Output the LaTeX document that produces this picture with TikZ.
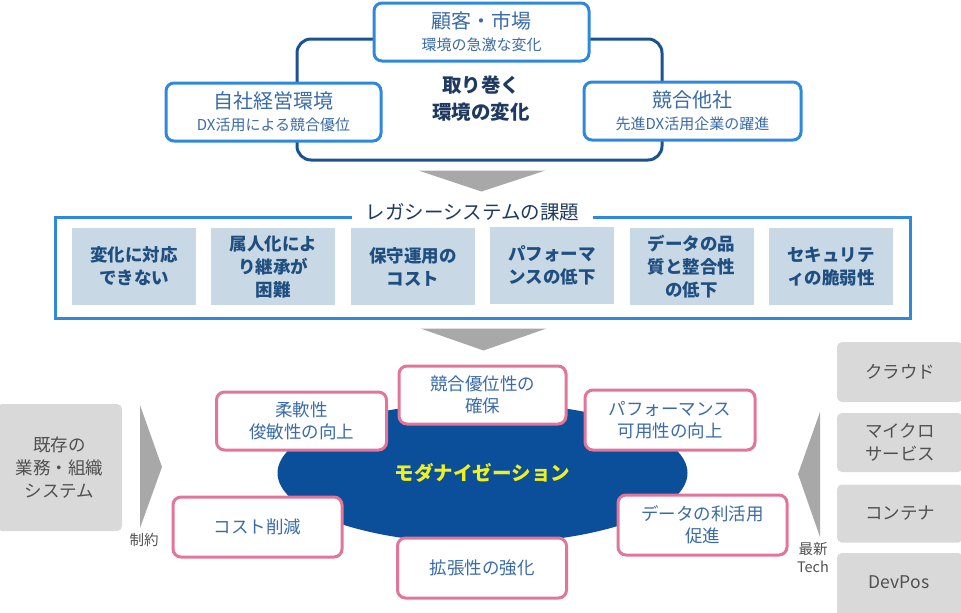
\documentclass[tikz,border=0pt]{standalone}
\usepackage{fontspec}
\setmainfont{Noto Sans CJK JP}
\usetikzlibrary{shapes.geometric}
\definecolor{lblue}{HTML}{2E88DC}
\definecolor{dblue}{HTML}{1C5291}
\definecolor{txtblue}{HTML}{3A6BA8}
\definecolor{navy}{HTML}{1F3A60}
\definecolor{issuefill}{HTML}{C9D8E5}
\definecolor{issuetxt}{HTML}{1F4F80}
\definecolor{pinkline}{HTML}{E27598}
\definecolor{ellblue}{HTML}{0B4F9A}
\definecolor{grayfill}{HTML}{D9D9D9}
\definecolor{arrowgray}{HTML}{A8A8A8}
\definecolor{graytxt}{HTML}{505050}
\tikzset{
  envbox/.style={draw=lblue, line width=3pt, rounded corners=8pt, fill=white,
    inner sep=0pt, align=center, text=txtblue, font=\fontsize{15}{22}\selectfont},
  issuebox/.style={fill=issuefill, inner sep=0pt, minimum width=124pt, minimum height=77pt,
    align=center, text=issuetxt, font=\fontsize{17.5}{23}\selectfont\bfseries},
  goalbox/.style={draw=pinkline, line width=3pt, rounded corners=8pt, fill=white,
    inner sep=0pt, align=center, text=txtblue, font=\fontsize{17.5}{22.5}\selectfont},
  techbox/.style={fill=grayfill, rounded corners=5pt, inner sep=0pt, align=center,
    text=graytxt, font=\fontsize{17.5}{23}\selectfont},
  smalltxt/.style={text=graytxt, align=center, inner sep=0pt, font=\fontsize{14.5}{18}\selectfont},
  bigarrow/.style={fill=arrowgray, draw=none}
}
\begin{document}
\begin{tikzpicture}[x=1pt, y=-1pt]
\useasboundingbox (0,0) rectangle (961,613);
\clip (0,0) rectangle (961,613);

% ---------- top: environment ----------
\node[draw=dblue, line width=3pt, rounded corners=14pt, minimum width=365pt, minimum height=121pt, inner sep=0pt] (env) at (479.5,99.5) {};
\node[envbox, minimum width=215pt, minimum height=58pt] (cust) at (481.5,32)
  {{\fontsize{20}{24}\selectfont 顧客・市場}\\環境の急激な変化};
\node[envbox, minimum width=215pt, minimum height=58pt] (own) at (273.5,112)
  {{\fontsize{20}{24}\selectfont 自社経営環境}\\DX活用による競合優位};
\node[envbox, minimum width=217pt, minimum height=58pt] (comp) at (692.5,111)
  {{\fontsize{20}{24}\selectfont 競合他社}\\先進DX活用企業の躍進};
\node[text=navy, align=center, font=\fontsize{19.5}{27}\selectfont\bfseries] (envtitle) at (481,98.5) {取り巻く\\環境の変化};

% ---------- legacy issues ----------
\node[draw=lblue, line width=3pt, minimum width=855pt, minimum height=101pt, inner sep=0pt] (legacy) at (482.5,267.5) {};
\node[fill=white, text=navy, inner sep=0pt, minimum width=241pt, minimum height=12pt, font=\fontsize{19.5}{24}\selectfont] (legtitle) at (472.5,212.5) {レガシーシステムの課題};

\node[issuebox] (i1) at (134,266.5) {変化に対応\\できない};
\node[issuebox] (i2) at (273.4,266.5) {属人化によ\\り継承が\\困難};
\node[issuebox] (i3) at (412.8,266.5) {保守運用の\\コスト};
\node[issuebox] (i4) at (552.2,265.5) {パフォーマ\\ンスの低下};
\node[issuebox] (i5) at (691.6,266.5) {データの品\\質と整合性\\の低下};
\node[issuebox] (i6) at (831,266.5) {セキュリテ\\ィの脆弱性};

% ---------- down arrows ----------
\fill[bigarrow] (env.south) ++(-61,9) -- ++(127,0) -- ++(-64,21) -- cycle;
\fill[bigarrow] (legacy.south) ++(-62,9) -- ++(126,0) -- ++(-63,22) -- cycle;

% ---------- modernization ----------
\node[ellipse, fill=ellblue, minimum width=410pt, minimum height=141pt, inner sep=0pt,
      text={rgb,255:red,240;green,240;blue,30}, font=\fontsize{19.5}{24}\selectfont\bfseries] (modern) at (482.5,473) {モダナイゼーション};

\node[goalbox, minimum width=167pt, minimum height=58pt] (g1) at (482.5,395) {競合優位性の\\確保};
\node[goalbox, minimum width=170pt, minimum height=58pt] (g2) at (301.5,421) {柔軟性\\俊敏性の向上};
\node[goalbox, minimum width=170pt, minimum height=60pt] (g3) at (670,420) {パフォーマンス\\可用性の向上};
\node[goalbox, minimum width=169pt, minimum height=60pt] (g4) at (257.5,527) {コスト削減};
\node[goalbox, minimum width=169pt, minimum height=60pt] (g5) at (702.5,525) {データの利活用\\促進};
\node[goalbox, minimum width=169pt, minimum height=60pt] (g6) at (482,568) {拡張性の強化};

% ---------- left side ----------
\node[techbox, minimum width=125pt, minimum height=127pt] (exist) at (59.5,467.5) {既存の\\業務・組織\\システム};
\coordinate (larrowtip) at (162,467);
\fill[bigarrow] (140,405) -- (larrowtip) -- (140,528) -- cycle;
\node[smalltxt] (constraint) at (144,540) {制約};

% ---------- right side ----------
\node[techbox, minimum width=126pt, minimum height=60pt] (t1) at (900,372) {クラウド};
\node[techbox, minimum width=126pt, minimum height=59pt] (t2) at (900,442.5) {マイクロ\\サービス};
\node[techbox, minimum width=126pt, minimum height=58pt] (t3) at (900,513.5) {コンテナ};
\node[techbox, minimum width=126pt, minimum height=70pt] (t4) at (900,588) {};
\node[text=graytxt, font=\fontsize{17.5}{23}\selectfont, inner sep=0pt] (t4label) at (899,582) {DevPos};
\coordinate (rarrowtip) at (798,474);
\fill[bigarrow] (820,412) -- (rarrowtip) -- (820,537) -- cycle;
\node[smalltxt] (latest) at (813,557.5) {最新\\Tech};
\end{tikzpicture}
\end{document}
